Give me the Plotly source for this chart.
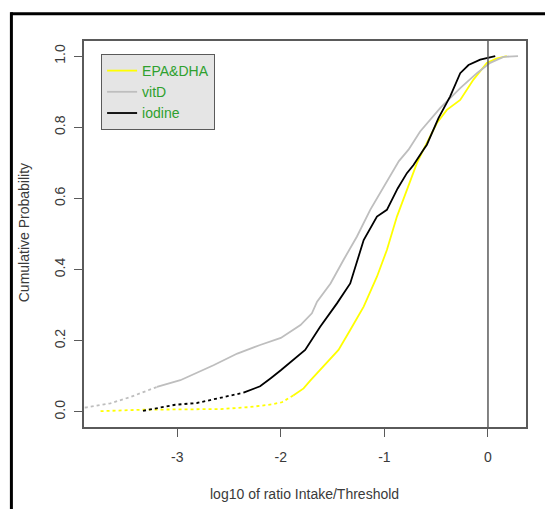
import numpy as np
import plotly.graph_objects as go

# ---- data ----
epa_x = [-3.74, -3.55, -3.35, -2.58, -2.45, -2.32, -2.20, -2.09, -1.99, -1.88, -1.78, -1.716,
         -1.60, -1.443, -1.33, -1.20, -1.072, -0.976, -0.879, -0.77, -0.686, -0.623,
         -0.493, -0.397, -0.268, -0.14, -0.011, 0.08, 0.182]
epa_y = [0.002, 0.004, 0.006, 0.008, 0.010, 0.013, 0.017, 0.021, 0.027, 0.046, 0.066, 0.088,
         0.125, 0.174, 0.230, 0.296, 0.380, 0.455, 0.549, 0.633, 0.699, 0.737,
         0.812, 0.849, 0.877, 0.934, 0.981, 0.993, 1.000]

vitd_x = [-3.95, -3.87, -3.646, -3.45, -3.196, -2.97, -2.65, -2.42, -2.20, -2.00, -1.81, -1.70,
          -1.65, -1.52, -1.395, -1.265, -1.137, -1.009, -0.86, -0.767, -0.655, -0.462,
          -0.268, -0.107, 0.021, 0.150, 0.29]
vitd_y = [0.010, 0.013, 0.024, 0.042, 0.070, 0.089, 0.131, 0.164, 0.188, 0.208, 0.244, 0.277,
          0.310, 0.361, 0.427, 0.493, 0.568, 0.633, 0.705, 0.737, 0.788, 0.854,
          0.910, 0.952, 0.981, 0.998, 1.000]

iod_x = [-3.33, -3.16, -3.02, -2.81, -2.65, -2.52, -2.36, -2.20, -2.10, -2.00, -1.765, -1.62,
         -1.458, -1.33, -1.20, -1.072, -0.976, -0.872, -0.783, -0.719, -0.623, -0.59,
         -0.478, -0.365, -0.268, -0.188, -0.075, 0.07]
iod_y = [0.003, 0.013, 0.020, 0.025, 0.035, 0.042, 0.054, 0.072, 0.094, 0.117, 0.174, 0.239,
         0.305, 0.361, 0.483, 0.549, 0.568, 0.628, 0.671, 0.694, 0.737, 0.751,
         0.826, 0.887, 0.952, 0.975, 0.990, 1.000]

x_ticks = [-3, -2, -1, 0]
y_ticks = [0.0, 0.2, 0.4, 0.6, 0.8, 1.0]
y_tick_labels = ["0.0", "0.2", "0.4", "0.6", "0.8", "1.0"]

series = [
    ("EPA&DHA", epa_x, epa_y, "#ffff00", -1.98),
    ("vitD", vitd_x, vitd_y, "#bebebe", -3.2),
    ("iodine", iod_x, iod_y, "#000000", -2.5),
]

# page body has an 8px margin: lay the figure out in page pixels shifted by it
OFF = 8
W, H = 553 - OFF, 509 - OFF
L, R_, T, B = 83.6 - OFF, 525.6 - OFF, 41.3 - OFF, 427 - OFF  # plot box in figure px

fig = go.Figure()
for name, xs, ys, col, cut in series:
    xs = np.array(xs)
    ys = np.array(ys)
    n_tail = int((xs <= cut).sum())
    fig.add_trace(go.Scatter(x=xs[:n_tail + 1], y=ys[:n_tail + 1], mode="lines",
                             line=dict(color=col, width=1.8, dash="dot"),
                             showlegend=False, hoverinfo="skip"))
    fig.add_trace(go.Scatter(x=xs[n_tail:], y=ys[n_tail:], mode="lines", name=name,
                             line=dict(color=col, width=1.8)))

axis_col = "#5a5a5a"
font_fam = "Liberation Sans, Arial, sans-serif"

def pxx(px):  # page px -> paper x
    return (px - OFF - L) / (R_ - L)

def pyy(py):  # page px -> paper y
    return (B - (py - OFF)) / (B - T)

fig.update_layout(
    width=W, height=H, autosize=False,
    margin=dict(l=L, r=W - R_, t=T, b=H - B),
    paper_bgcolor="white", plot_bgcolor="white",
    font=dict(family=font_fam, size=14, color="#3a3a3a"),
    showlegend=True,
    legend=dict(x=pxx(100.7), y=pyy(54.3), xanchor="left", yanchor="top",
                bgcolor="#e5e5e5", bordercolor=axis_col, borderwidth=1,
                font=dict(family=font_fam, size=14, color="#2ea02e"),
                tracegroupgap=0, itemwidth=30, entrywidth=82, entrywidthmode="pixels"),
    xaxis=dict(range=[-3.90, 0.367], tickvals=x_ticks, ticktext=[str(v) for v in x_ticks],
               showgrid=False, zeroline=False, showline=True, mirror=True,
               linecolor=axis_col, linewidth=1.5, ticks="outside", ticklen=8,
               tickcolor=axis_col, tickwidth=1.2, ticklabelstandoff=8),
    yaxis=dict(range=[-0.0425, 1.0425], tickvals=y_ticks, ticktext=y_tick_labels,
               tickangle=-90,
               showgrid=False, zeroline=False, showline=True, mirror=True,
               linecolor=axis_col, linewidth=1.5, ticks="outside", ticklen=8,
               tickcolor=axis_col, tickwidth=1.2, ticklabelstandoff=4),
)

# vertical reference line at 0
fig.add_shape(type="line", xref="x", yref="paper", x0=0, x1=0, y0=0, y1=1,
              line=dict(color=axis_col, width=1.5))

# outer frame (top and left edges)
fig.add_shape(type="line", xref="paper", yref="paper",
              x0=pxx(10), x1=pxx(560), y0=pyy(14), y1=pyy(14),
              line=dict(color="black", width=3))
fig.add_shape(type="line", xref="paper", yref="paper",
              x0=pxx(11), x1=pxx(11), y0=pyy(12.5), y1=pyy(520),
              line=dict(color="black", width=3))

# axis titles
fig.add_annotation(text="log10 of ratio Intake/Threshold", xref="paper", yref="paper",
                   x=pxx(304), y=pyy(494), showarrow=False,
                   xanchor="center", yanchor="middle", font=dict(size=14, color="#3a3a3a"))
fig.add_annotation(text="Cumulative Probability", xref="paper", yref="paper",
                   x=pxx(23), y=pyy(233), showarrow=False, textangle=-90,
                   xanchor="center", yanchor="middle", font=dict(size=14, color="#3a3a3a"))

fig.write_html("out.html")
